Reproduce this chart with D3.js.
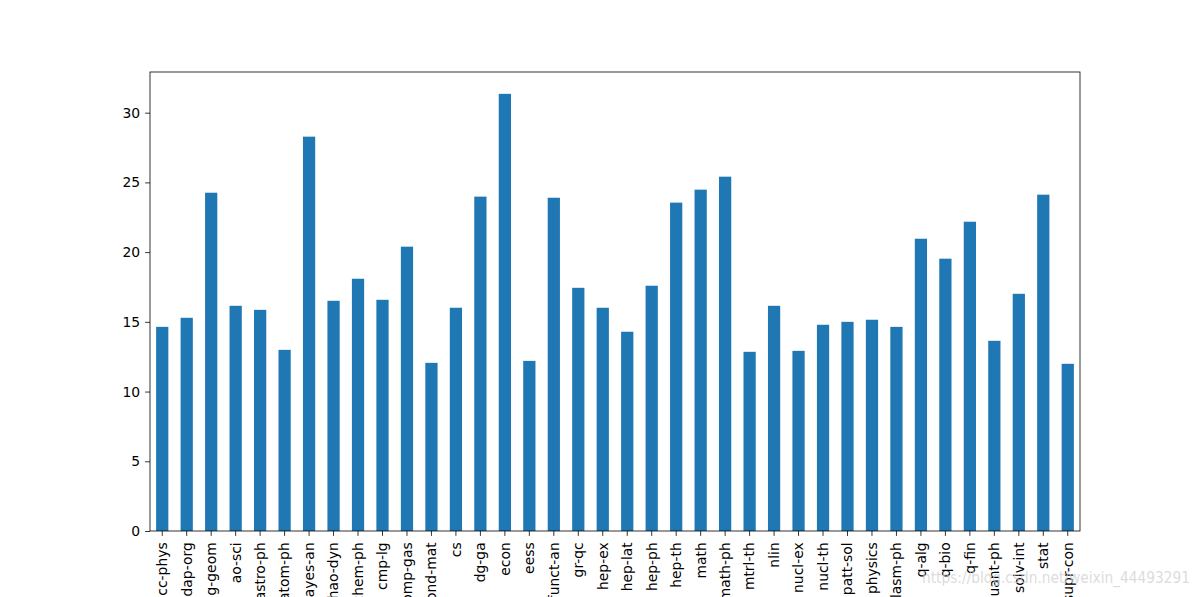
<!DOCTYPE html>
<html><head><meta charset="utf-8">
<script src="https://cdn.jsdelivr.net/npm/d3@7"></script>
<style>body{margin:0;background:#fff}svg{display:block}text{font-family:"DejaVu Sans",sans-serif}</style>
</head><body>
<svg id="c" width="1200" height="597"></svg>
<script>
const categories = ["acc-phys","adap-org","alg-geom","ao-sci","astro-ph","atom-ph","bayes-an","chao-dyn","chem-ph","cmp-lg","comp-gas","cond-mat","cs","dg-ga","econ","eess","funct-an","gr-qc","hep-ex","hep-lat","hep-ph","hep-th","math","math-ph","mtrl-th","nlin","nucl-ex","nucl-th","patt-sol","physics","plasm-ph","q-alg","q-bio","q-fin","quant-ph","solv-int","stat","supr-con"];
const values = [14.64,15.29,24.26,16.15,15.86,12.99,28.28,16.51,18.09,16.58,20.39,12.06,16.01,23.98,31.35,12.20,23.90,17.44,16.01,14.29,17.59,23.55,24.48,25.41,12.85,16.15,12.92,14.79,15.0,15.15,14.64,20.96,19.53,22.18,13.64,17.01,24.12,11.99];
const yTicks = [0,5,10,15,20,25,30];
const watermark = "https://blog.csdn.net/weixin_44493291";

const svg = d3.select("#c");
const L=150, R=1080, T=72, B=531;
const x = d3.scaleBand().domain(categories).range([L,R]).paddingInner(0.5).paddingOuter(0.25);
const y = d3.scaleLinear().domain([0, d3.max(values)*1.05]).range([B,T]);

svg.append("g").selectAll("rect").data(categories).join("rect")
  .attr("x", d=>x(d)).attr("width", x.bandwidth())
  .attr("y", (d,i)=>y(values[i])).attr("height",(d,i)=>B-y(values[i]))
  .attr("fill","#1f77b4");

const fs = "13.9px";
const ya = svg.append("g").attr("transform",`translate(${L},0)`)
  .call(d3.axisLeft(y).tickValues(yTicks).tickSize(4.9).tickPadding(4.9).tickFormat(d3.format("d")));
ya.select(".domain").remove();
ya.selectAll("text").attr("font-size",fs).attr("font-family","DejaVu Sans").attr("fill","#000");
ya.selectAll("line").attr("stroke","#000").attr("stroke-width",0.8);

const xa = svg.append("g").attr("transform",`translate(0,${B})`)
  .call(d3.axisBottom(x).tickSize(4.9).tickPadding(0));
xa.select(".domain").remove();
xa.selectAll("line").attr("stroke","#000").attr("stroke-width",0.8);
xa.selectAll("text").attr("font-size",fs).attr("font-family","DejaVu Sans").attr("fill","#000")
  .attr("transform","translate(0,11.3) rotate(-90)")
  .attr("text-anchor","end").attr("dy","0.35em").attr("x",0).attr("y",0);

svg.append("rect").attr("x",L).attr("y",T).attr("width",R-L).attr("height",B-T)
  .attr("fill","none").attr("stroke","#000").attr("stroke-width",0.8);

svg.append("text").attr("x",922).attr("y",583)
  .attr("font-family","Liberation Sans").attr("font-size","16px")
  .attr("textLength",268).attr("lengthAdjust","spacingAndGlyphs")
  .attr("fill","#d0d0d0").attr("fill-opacity",0.75).text(watermark);
</script>
</body></html>
